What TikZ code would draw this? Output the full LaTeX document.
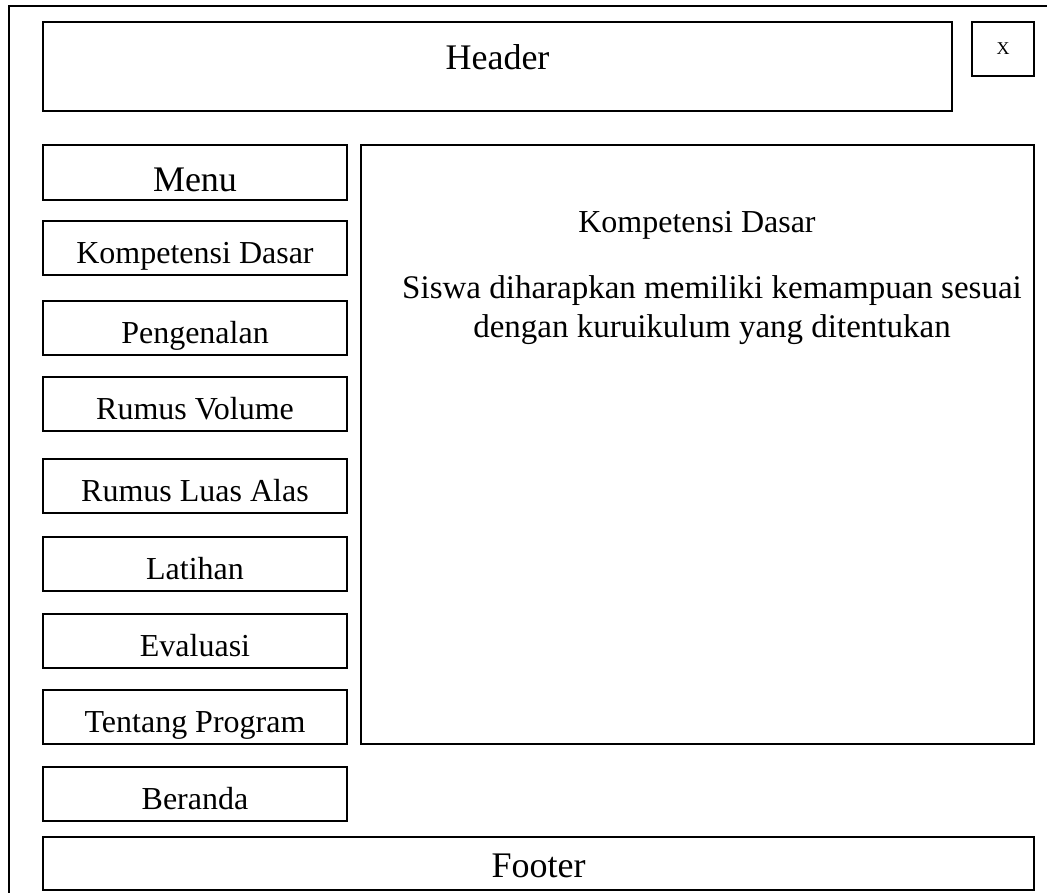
\documentclass[tikz,border=0pt]{standalone}
\usepackage{fontspec}
\setmainfont{Liberation Serif}
\usepackage{tikz}

\newcommand{\bigfont}{\fontsize{36}{42}\selectfont}
\newcommand{\itemfont}{\fontsize{32}{39}\selectfont}
\newcommand{\descfont}{\fontsize{33}{39}\selectfont}
\newcommand{\closefont}{\fontsize{18}{20}\selectfont}

\tikzset{
    frame/.style={draw, line width=1.8pt},
    label/.style={anchor=base, font=\itemfont},
}

\begin{document}
\begin{tikzpicture}[x=1pt, y=-1pt]

\useasboundingbox (0,0) rectangle (1047,892);
\clip (0,0) rectangle (1047,892);

% outer window, runs past the right and bottom edge
\draw[frame] (9,6) rectangle (1070,920);

% header and close button
\draw[frame] (43,22) rectangle (952,111);
\node[anchor=base, font=\bigfont] (header) at (497.5,69) {Header};
\draw[frame] (972,22) rectangle (1034,76);
\node[anchor=base, font=\closefont] (close) at (1003,54) {X};

% menu column
\draw[frame] (43,145) rectangle (347,200);
\node[anchor=base, font=\bigfont] (menu) at (195,191) {Menu};

\foreach \t/\val [count=\n] in {
    221/Kompetensi Dasar,
    301/Pengenalan,
    377/Rumus Volume,
    459/Rumus Luas Alas,
    537/Latihan,
    614/Evaluasi,
    690/Tentang Program,
    767/Beranda%
} {
    \draw[frame] (43,\t) rectangle ++(304,54);
    \node[label] (item\n) at (195,\t+42) {\val};
}

% content area
\draw[frame] (361,145) rectangle (1034,744);
\node[label] (title) at (697,232) {Kompetensi Dasar};
\node[anchor=base, font=\descfont, align=center] (desc) at (712,337)
    {Siswa diharapkan memiliki kemampuan sesuai\\dengan kuruikulum yang ditentukan};

% footer
\draw[frame] (43,837) rectangle (1034,890);
\node[anchor=base, font=\bigfont] (footer) at (538.5,877) {Footer};

\end{tikzpicture}
\end{document}
